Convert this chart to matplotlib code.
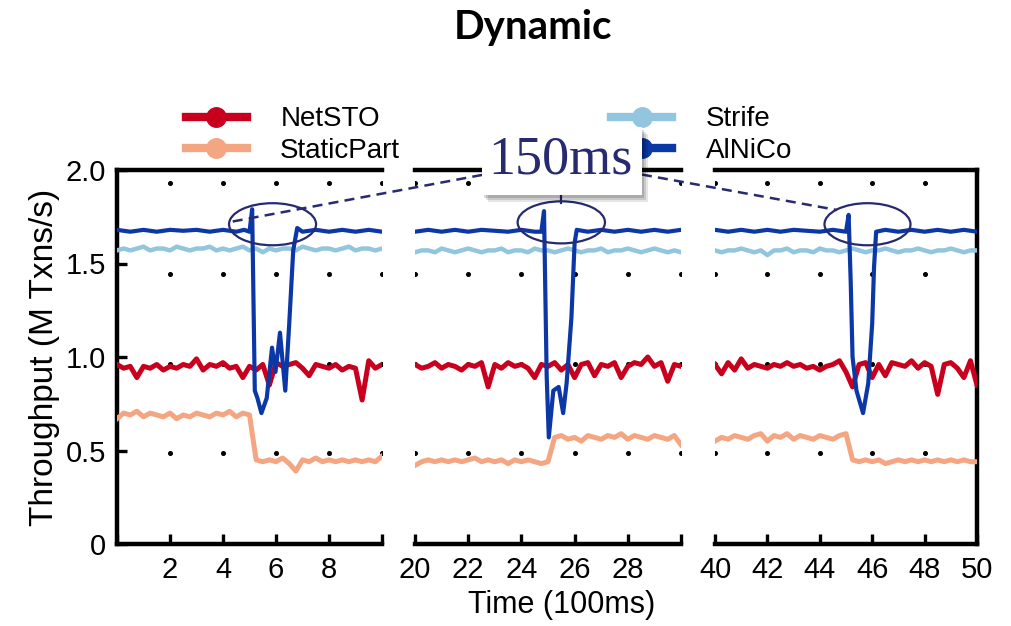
import numpy as np
import matplotlib
matplotlib.use('Agg')
import matplotlib.pyplot as plt
from matplotlib.lines import Line2D
from matplotlib.patches import Ellipse, Rectangle

plt.rcParams['font.family'] = ['Liberation Sans', 'DejaVu Sans']

# ---- data (throughput in M Txns/s, time in 100ms) ----
t1 = np.arange(0, 10.01, 0.25)
t2 = np.arange(20, 30.01, 0.25)
t3 = np.arange(40, 50.01, 0.25)

netsto_1 = [0.96, 0.94, 0.95, 0.89, 0.95, 0.94, 0.96, 0.93, 0.95, 0.94, 0.96, 0.95, 0.99, 0.93,
            0.96, 0.95, 0.97, 0.94, 0.95, 0.89, 0.95, 0.93, 0.96, 0.85, 0.97, 0.95, 0.96, 0.97,
            0.94, 0.90, 0.96, 0.95, 0.94, 0.96, 0.93, 0.95, 0.94, 0.77, 0.98, 0.94, 0.96]
netsto_2 = [0.96, 0.94, 0.95, 0.97, 0.94, 0.96, 0.95, 0.93, 0.96, 0.95, 0.97, 0.84, 0.96, 0.94,
            0.97, 0.95, 0.96, 0.94, 0.89, 0.96, 0.95, 0.97, 0.93, 0.96, 0.89, 0.96, 0.97, 0.90,
            0.96, 0.95, 0.97, 0.89, 0.95, 0.97, 0.96, 1.00, 0.95, 0.97, 0.87, 0.96, 0.95]
netsto_3 = [0.96, 0.91, 0.97, 0.93, 0.99, 0.94, 0.96, 0.95, 0.94, 0.96, 0.95, 0.97, 0.95, 0.96,
            0.94, 0.95, 0.93, 0.95, 0.96, 0.98, 0.92, 0.84, 0.96, 0.97, 0.89, 0.96, 0.90, 0.97,
            0.96, 0.95, 0.98, 0.94, 0.97, 0.95, 0.80, 0.96, 0.97, 0.94, 0.89, 0.98, 0.85]

static_1 = [0.67, 0.70, 0.69, 0.71, 0.68, 0.70, 0.69, 0.68, 0.70, 0.67, 0.69, 0.68, 0.70, 0.69,
            0.68, 0.70, 0.69, 0.71, 0.68, 0.70, 0.69, 0.45, 0.44, 0.45, 0.44, 0.46, 0.43, 0.39,
            0.45, 0.44, 0.46, 0.44, 0.45, 0.44, 0.45, 0.44, 0.45, 0.44, 0.45, 0.44, 0.47]
static_2 = [0.42, 0.44, 0.45, 0.44, 0.45, 0.44, 0.45, 0.44, 0.45, 0.46, 0.44, 0.45, 0.44, 0.45,
            0.43, 0.45, 0.44, 0.45, 0.44, 0.43, 0.44, 0.57, 0.58, 0.56, 0.57, 0.55, 0.58, 0.57,
            0.56, 0.58, 0.57, 0.59, 0.56, 0.58, 0.57, 0.56, 0.58, 0.57, 0.56, 0.58, 0.53]
static_3 = [0.55, 0.57, 0.56, 0.58, 0.57, 0.56, 0.58, 0.59, 0.55, 0.58, 0.57, 0.59, 0.56, 0.58,
            0.57, 0.56, 0.58, 0.57, 0.56, 0.58, 0.59, 0.45, 0.44, 0.45, 0.44, 0.45, 0.43, 0.44,
            0.45, 0.44, 0.45, 0.44, 0.45, 0.44, 0.45, 0.44, 0.45, 0.44, 0.45, 0.44, 0.44]

strife_1 = [1.57, 1.58, 1.57, 1.58, 1.59, 1.57, 1.58, 1.58, 1.57, 1.59, 1.58, 1.57, 1.58, 1.58,
            1.59, 1.57, 1.58, 1.57, 1.58, 1.59, 1.57, 1.58, 1.56, 1.58, 1.57, 1.58, 1.58, 1.57,
            1.59, 1.58, 1.57, 1.58, 1.58, 1.57, 1.58, 1.59, 1.57, 1.58, 1.58, 1.57, 1.58]
strife_2 = [1.56, 1.57, 1.57, 1.56, 1.58, 1.57, 1.56, 1.57, 1.58, 1.57, 1.56, 1.57, 1.57, 1.58,
            1.56, 1.57, 1.57, 1.56, 1.58, 1.57, 1.57, 1.56, 1.57, 1.58, 1.57, 1.56, 1.57, 1.57,
            1.58, 1.56, 1.57, 1.57, 1.58, 1.57, 1.56, 1.57, 1.58, 1.57, 1.56, 1.57, 1.56]
strife_3 = [1.57, 1.56, 1.57, 1.57, 1.58, 1.57, 1.56, 1.57, 1.545, 1.57, 1.57, 1.58, 1.56, 1.57,
            1.57, 1.56, 1.58, 1.57, 1.57, 1.56, 1.57, 1.58, 1.57, 1.56, 1.57, 1.57, 1.58, 1.57,
            1.56, 1.57, 1.57, 1.58, 1.57, 1.56, 1.57, 1.57, 1.58, 1.57, 1.56, 1.57, 1.57]

alnico_t1 = [0, 0.5, 1, 1.5, 2, 2.5, 3, 3.5, 4, 4.5, 4.8, 5.0, 5.1, 5.2, 5.3, 5.45, 5.65, 5.85,
             5.98, 6.15, 6.35, 6.5, 6.65, 6.8, 7.0, 7.5, 8, 8.5, 9, 9.5, 10]
alnico_1 = [1.68, 1.67, 1.68, 1.67, 1.68, 1.675, 1.68, 1.67, 1.68, 1.67, 1.68, 1.67, 1.79, 0.82,
            0.78, 0.70, 0.78, 1.05, 0.92, 1.13, 0.82, 1.18, 1.57, 1.69, 1.67, 1.68, 1.67, 1.68,
            1.67, 1.68, 1.67]
alnico_t2 = [20, 20.5, 21, 21.5, 22, 22.5, 23, 23.5, 24, 24.5, 24.75, 24.85, 24.95, 25.03, 25.2,
             25.4, 25.57, 25.7, 25.88, 26.0, 26.08, 26.5, 27, 27.5, 28, 28.5, 29, 29.5, 30]
alnico_2 = [1.67, 1.68, 1.67, 1.68, 1.67, 1.68, 1.675, 1.67, 1.68, 1.67, 1.67, 1.78, 0.90, 0.57,
            0.82, 0.84, 0.70, 0.86, 1.21, 1.61, 1.68, 1.67, 1.68, 1.67, 1.68, 1.67, 1.68, 1.67, 1.68]
alnico_t3 = [40, 40.5, 41, 41.5, 42, 42.5, 43, 43.5, 44, 44.5, 45.0, 45.1, 45.18, 45.25, 45.4,
             45.65, 45.85, 46.0, 46.07, 46.15, 46.5, 47, 47.5, 48, 48.5, 49, 49.5, 50]
alnico_3 = [1.68, 1.67, 1.68, 1.67, 1.68, 1.67, 1.68, 1.675, 1.67, 1.68, 1.67, 1.76, 1.40, 1.00,
            0.82, 0.70, 0.86, 1.18, 1.48, 1.67, 1.68, 1.67, 1.68, 1.67, 1.68, 1.67, 1.68, 1.67]

names = ['NetSTO', 'StaticPart', 'Strife', 'AlNiCo']
colors = ['#c8001e', '#f4a582', '#92c5de', '#0b38a6']

panels = [
    (t1, netsto_1, static_1, strife_1, alnico_t1, alnico_1, (0, 10)),
    (t2, netsto_2, static_2, strife_2, alnico_t2, alnico_2, (20, 30)),
    (t3, netsto_3, static_3, strife_3, alnico_t3, alnico_3, (40, 50)),
]
xticks = [[0, 2, 4, 6, 8, 10], [20, 22, 24, 26, 28, 30], [40, 42, 44, 46, 48, 50]]
xlabels = [['', '2', '4', '6', '8', ''], ['20', '22', '24', '26', '28', ''],
           ['40', '42', '44', '46', '48', '50']]
dot_x = [[2, 4, 6, 8, 10], [20, 22, 24, 26, 28, 30], [40, 42, 44, 46, 48]]
dot_y = [0.485, 0.965, 1.445, 1.93]
# spike highlight ellipses (centre x, centre y)
ell = [(5.87, 1.71), (25.5, 1.72), (45.82, 1.71)]

W, H = 1012, 626
fig = plt.figure(figsize=(W / 100, H / 100), dpi=100)

def fx(x, y):
    return (x / W, 1 - y / H)

lefts = [117, 415, 715]
rights = [382, 681, 977]
axes = []
navy = '#262a6e'
for i, (t, ns, sp, st, at, al, xl) in enumerate(panels):
    l, r = lefts[i], rights[i]
    ax = fig.add_axes([l / W, 1 - 544 / H, (r - l) / W, (544 - 170) / H])
    axes.append(ax)
    for xx in dot_x[i]:
        ax.plot([xx] * len(dot_y), dot_y, ls='none', marker='o', ms=2.6, color='black', zorder=1)
    ax.plot(t, ns, color=colors[0], lw=3.6, zorder=3)
    ax.plot(t, sp, color=colors[1], lw=3.6, zorder=3)
    ax.plot(t, st, color=colors[2], lw=3.2, zorder=3)
    ax.plot(at, al, color=colors[3], lw=3.0, zorder=4)
    ax.add_patch(Ellipse(ell[i], 87 / 26.5, 0.225, fill=False, ec=navy, lw=1.6, zorder=5))
    ax.set_xlim(*xl)
    ax.set_ylim(0, 2.0)
    ax.set_xticks(xticks[i])
    ax.set_xticklabels(xlabels[i])
    for s in ax.spines.values():
        s.set_linewidth(3.2)
    ax.spines['left'].set_visible(i == 0)
    ax.spines['right'].set_visible(i == 2)
    ax.tick_params(axis='x', direction='in', length=7, width=2.4, labelsize=21, pad=9)
    if i == 0:
        ax.set_yticks([0, 0.5, 1.0, 1.5, 2.0])
        ax.set_yticklabels(['0', '0.5', '1.0', '1.5', '2.0'])
        ax.tick_params(axis='y', direction='in', length=7, width=2.4, labelsize=21, pad=8)
        ax.set_ylabel('Throughput (M Txns/s)', fontsize=24, labelpad=4)
    else:
        ax.set_yticks([])

fig.text(562 / W, 1 - 605 / H, 'Time (100ms)', fontsize=22, ha='center', va='center')
fig.text(533 / W, 1 - 28 / H, 'Dynamic', fontsize=29, fontweight='bold', family='Lato',
         ha='center', va='center')

handles = [Line2D([], [], color=c, lw=6, marker='o', ms=14) for c in colors]
fig.legend(handles, names, ncol=2, loc='center', bbox_to_anchor=fx(489, 135), frameon=False,
           fontsize=20, handlelength=2.2, handletextpad=1.2, columnspacing=7.6,
           labelspacing=0.2)

# connector lines from the label box to the three spikes
for (x0, y0), (x1, y1) in [((562, 160), (230, 222)), ((562, 160), (837, 210))]:
    a, b = fx(x0, y0), fx(x1, y1)
    fig.add_artist(Line2D([a[0], b[0]], [a[1], b[1]], color=navy, lw=1.8, ls=(0, (4, 2.5)),
                          zorder=8))
a, b = fx(561, 195), fx(561, 203)
fig.add_artist(Line2D([a[0], b[0]], [a[1], b[1]], color=navy, lw=1.6, zorder=8))

# label box with soft shadow
for k, al in enumerate([0.10, 0.12, 0.15]):
    off = 7 - 2 * k
    x0, y0 = fx(482 + off - 1, 195 + off)
    fig.add_artist(Rectangle((x0, y0), 160 / W, 68 / H, transform=fig.transFigure,
                             fc='black', ec='none', alpha=al, zorder=9))
x0, y0 = fx(482, 195)
fig.add_artist(Rectangle((x0, y0), 160 / W, 68 / H, transform=fig.transFigure,
                         fc='white', ec='none', zorder=10))
fig.text(560 / W, 1 - 160 / H, '150ms', fontsize=39, family='Liberation Serif', color=navy,
         ha='center', va='center', zorder=11)

fig.savefig('out.png', dpi=100)
